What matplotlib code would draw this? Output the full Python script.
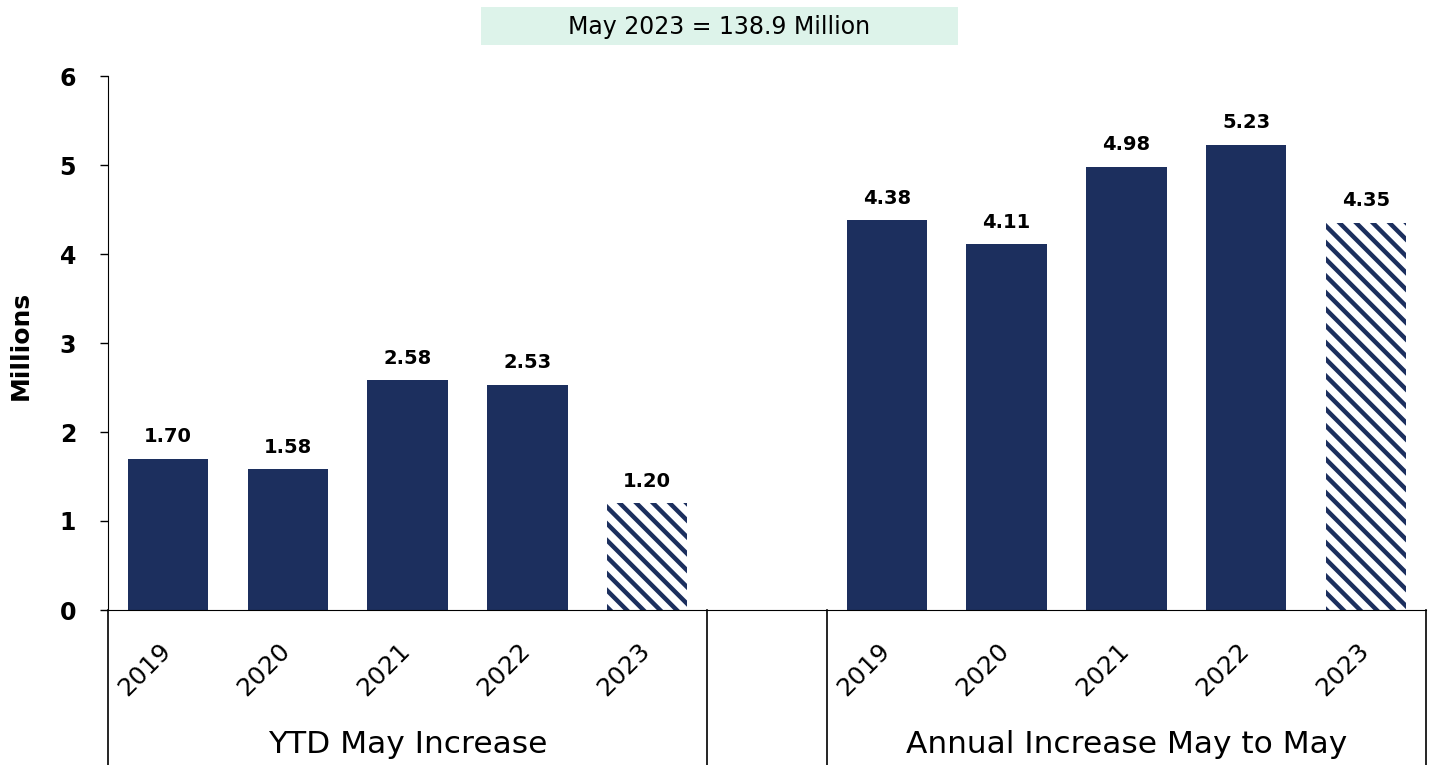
import matplotlib
matplotlib.use("Agg")
import matplotlib.pyplot as plt
from matplotlib.patches import Rectangle

# data (millions)
years = ["2019", "2020", "2021", "2022", "2023"]
groups = ["YTD May Increase", "Annual Increase May to May"]
ytd_increase = [1.70, 1.58, 2.58, 2.53, 1.20]
annual_increase = [4.38, 4.11, 4.98, 5.23, 4.35]
headline = "May 2023 = 138.9 Million"

NAVY = "#1c2f5e"
plt.rcParams["font.family"] = ["DejaVu Sans"]
plt.rcParams["hatch.linewidth"] = 3.2

fig = plt.figure(figsize=(14.31, 7.65), dpi=100)
ax = fig.add_axes([108 / 1431, 1 - 610 / 765, 1318 / 1431, 534 / 765])

# the two groups share one axis, with an empty slot between them
pos_ytd = list(range(len(years)))
pos_ann = [p + len(years) + 1 for p in pos_ytd]
bar_w = 0.67

for positions, values in [(pos_ytd, ytd_increase), (pos_ann, annual_increase)]:
    for i, (x, v) in enumerate(zip(positions, values)):
        if i == len(values) - 1:
            # latest year drawn hatched
            ax.bar(x, v, width=bar_w, facecolor="white", edgecolor=NAVY,
                   hatch="\\\\", linewidth=0)
        else:
            ax.bar(x, v, width=bar_w, color=NAVY, linewidth=0)
        ax.annotate(f"{v:.2f}", (x, v), xytext=(0, 9), textcoords="offset points",
                    ha="center", va="bottom", fontsize=14, fontweight="bold")

ax.set_xlim(-0.5, pos_ann[-1] + 0.5)
ax.set_ylim(0, 6)
ax.set_yticks(range(0, 7))
ax.tick_params(axis="y", direction="out", length=6, width=1, labelsize=17, pad=17)
for lbl in ax.get_yticklabels():
    lbl.set_fontweight("bold")
ax.set_xticks([])
ax.spines["top"].set_visible(False)
ax.spines["right"].set_visible(False)
ax.set_ylabel("Millions", fontsize=18, fontweight="bold")
ax.yaxis.set_label_coords(-0.057, 0.496)

# multi-level category labels under the axis
trans = ax.get_xaxis_transform()
for positions in (pos_ytd, pos_ann):
    for x, yr in zip(positions, years):
        ax.annotate(yr, (x, 0), xycoords=trans, xytext=(-17, -43),
                    textcoords="offset points", ha="center", va="center",
                    rotation=45, fontsize=18)
for positions, name in zip((pos_ytd, pos_ann), groups):
    ax.annotate(name, (positions[2], 0), xycoords=trans, xytext=(0, -97),
                textcoords="offset points", ha="center", va="center", fontsize=22.5)

for xb in [-0.5, pos_ytd[-1] + 0.5, pos_ann[0] - 0.5, pos_ann[-1] + 0.5]:
    ax.plot([xb, xb], [0, -0.32], transform=trans, color="black", lw=1.2,
            clip_on=False)

# headline box at the top
fig.patches.append(Rectangle((481 / 1431, 1 - 45 / 765), 477 / 1431, 38 / 765,
                             transform=fig.transFigure, facecolor="#ddf3ea",
                             edgecolor="none"))
fig.text(719 / 1431, 1 - 27 / 765, headline, ha="center", va="center", fontsize=17)

fig.savefig("out.png", dpi=100)
